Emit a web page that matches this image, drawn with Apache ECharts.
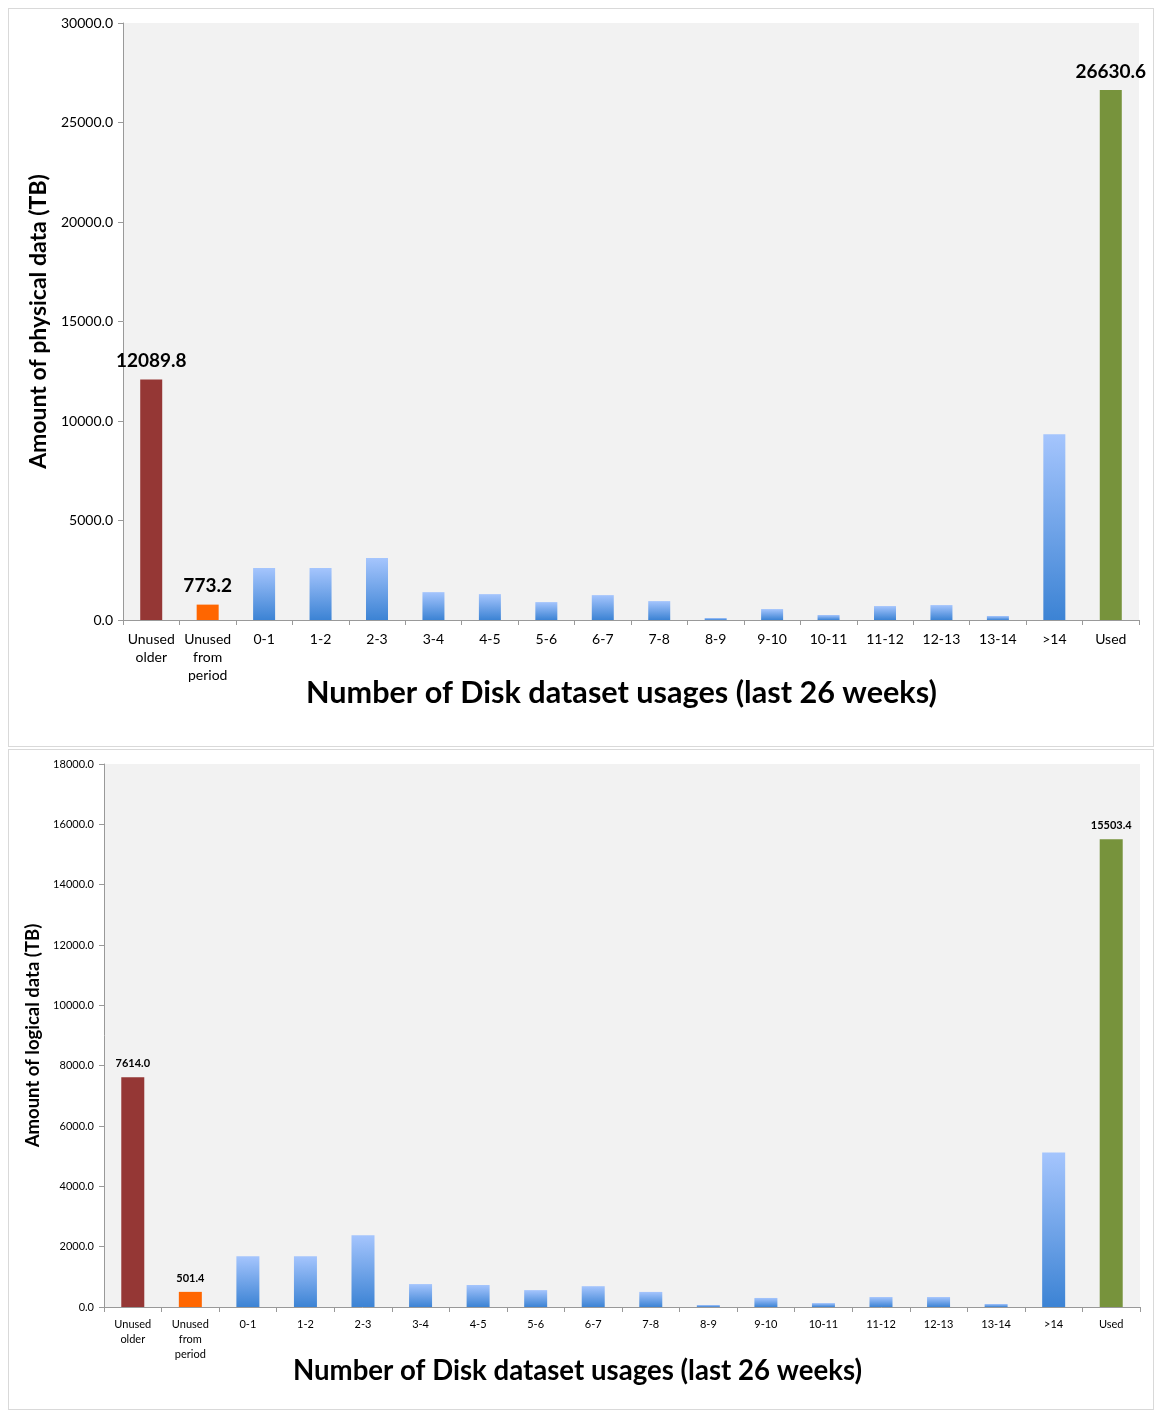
<!DOCTYPE html>
<html>
<head>
<meta charset="utf-8">
<script src="https://cdn.jsdelivr.net/npm/echarts@6/dist/echarts.min.js"></script>
<style>
  body { margin: 0; background: #fff; width: 1155px; height: 1410px; position: relative; }
  .panel { position: absolute; left: 8px; width: 1146px; border: 1px solid #d9d9d9; box-sizing: border-box; background: #fff; }
  #physical { top: 8px; height: 739px; }
  #logical { top: 749px; height: 661px; }
</style>
</head>
<body>
<div id="physical" class="panel"></div>
<div id="logical" class="panel"></div>
<script>
// usage buckets (last 26 weeks)
var categories = ['Unused\nolder', 'Unused\nfrom\nperiod', '0-1', '1-2', '2-3', '3-4', '4-5', '5-6', '6-7',
    '7-8', '8-9', '9-10', '10-11', '11-12', '12-13', '13-14', '>14', 'Used'];
var physicalValues = [12089.8, 773.2, 2610, 2610, 3110, 1400, 1300, 900, 1250,
    950, 100, 550, 250, 700, 750, 200, 9340, 26630.6];
var logicalValues = [7614.0, 501.4, 1680, 1680, 2380, 760, 730, 560, 690,
    500, 66, 300, 130, 330, 330, 100, 5120, 15503.4];
var labelled = [0, 1, 17];

var FONT = 'Lato';
var blueFill = new echarts.graphic.LinearGradient(0, 0, 0, 1, [
    {offset: 0, color: '#a5c5fd'},
    {offset: 1, color: '#3c83d4'}
]);
var solid = {0: '#953735', 1: '#ff6600', 17: '#77933c'};

function buildData(values, labelSize, dist) {
    return values.map(function (v, i) {
        var item = {value: v, itemStyle: {color: solid[i] || blueFill}};
        if (labelled.indexOf(i) >= 0) {
            item.label = {
                show: true, position: 'top', distance: dist,
                formatter: function (p) { return p.value.toFixed(1); },
                fontFamily: FONT, fontWeight: 'bold', fontSize: labelSize, color: '#000'
            };
        }
        return item;
    });
}

function makeOption(cfg) {
    return {
        animation: false,
        textStyle: {fontFamily: FONT},
        grid: {
            left: cfg.left, right: cfg.right, top: cfg.top, bottom: cfg.bottom,
            show: true, backgroundColor: '#f2f2f2', borderWidth: 0
        },
        graphic: [{
            type: 'text', left: cfg.titleX, top: cfg.titleY,
            style: {text: 'Number of Disk dataset usages (last 26 weeks)', fontFamily: FONT,
                fontWeight: 'bold', fontSize: cfg.titleSize, fill: '#000'}
        }],
        xAxis: {
            type: 'category',
            data: categories,
            axisLine: {lineStyle: {color: '#999', width: 1}},
            axisTick: {show: true, length: 5, lineStyle: {color: '#999'}},
            axisLabel: {interval: 0, color: '#000', fontSize: cfg.labelSize, lineHeight: cfg.labelLine, margin: 10}
        },
        yAxis: {
            type: 'value', min: 0, max: cfg.max, interval: cfg.interval,
            name: cfg.yName, nameLocation: 'middle', nameGap: cfg.nameGap,
            nameTextStyle: {fontFamily: FONT, fontWeight: 'bold', fontSize: cfg.nameSize, color: '#000'},
            axisLine: {show: true, lineStyle: {color: '#999'}},
            axisTick: {show: true, length: 5, lineStyle: {color: '#999'}},
            splitLine: {show: false},
            axisLabel: {color: '#000', fontSize: cfg.yLabelSize, margin: 10,
                formatter: function (v) { return v.toFixed(1); }}
        },
        series: [{
            type: 'bar',
            barWidth: cfg.barWidth,
            data: buildData(cfg.values, cfg.valueSize, cfg.valueDist)
        }]
    };
}

echarts.init(document.getElementById('physical')).setOption(makeOption({
    left: 114, right: 14, top: 14, bottom: 126,
    max: 30000, interval: 5000, values: physicalValues,
    yName: 'Amount of physical data (TB)', nameGap: 66, nameSize: 23, yLabelSize: 14,
    labelSize: 14, labelLine: 18, valueSize: 19, valueDist: 9, barWidth: 22,
    titleX: 297, titleY: 669, titleSize: 30.6
}));

echarts.init(document.getElementById('logical')).setOption(makeOption({
    left: 95, right: 13, top: 14, bottom: 102,
    max: 18000, interval: 2000, values: logicalValues,
    yName: 'Amount of logical data (TB)', nameGap: 54, nameSize: 18.5, yLabelSize: 11,
    labelSize: 11, labelLine: 15, valueSize: 11, valueDist: 8, barWidth: 23,
    titleX: 284, titleY: 607, titleSize: 27.6
}));
</script>
</body>
</html>
